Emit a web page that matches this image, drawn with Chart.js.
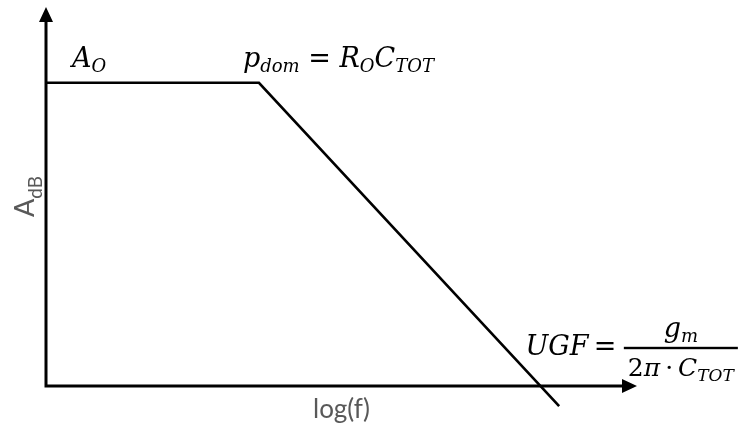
<!DOCTYPE html>
<html>
<head>
<meta charset="utf-8">
<script src="https://cdn.jsdelivr.net/npm/chart.js@4"></script>
<style>
  html, body { margin: 0; padding: 0; background: #fff; }
  #bode { display: block; }
</style>
</head>
<body>
<canvas id="bode" width="740" height="428"></canvas>
<script>
// asymptotic magnitude of a single-pole amplifier: flat at A0, then -20 dB/dec
const logF   = [0, 2.27, 5.47];
const gainDb = [60, 60, -4];

const xRange  = [0, 6.3];   // decades
const yRange  = [0, 75];    // dB
const ugfLogF = 5.27;       // where the asymptote crosses 0 dB

const ink  = '#000';
const grey = '#595959';
const mathFont = '"DejaVu Serif", serif';
const textFont = 'Lato, "Open Sans", sans-serif';

const MAIN = 27, SUB = 18, SUB_DY = 5;
const FRAC = 25, FRAC_SUB = 17;
const THIN = '\u2009';
const it  = (t, size = MAIN, dy = 0) => ({ t, size, dy, italic: true });
const up  = (t, size = MAIN, dy = 0) => ({ t, size, dy, italic: false });
const sub = (t, size = SUB) => it(t, size, SUB_DY);

const gainLabel = [it('A'), sub('O')];
const poleLabel = [it('p'), sub('dom'), up(' = '), it('R'), sub('O'), it('C'), sub('TOT')];
const ugfLabel  = [it('UGF'), up(THIN + '=' + THIN)];
const ugfNum    = [it('g'), sub('m')];
const ugfDen    = [up('2', FRAC), it('π', FRAC), up(THIN + '·' + THIN, FRAC), it('C', FRAC), sub('TOT', FRAC_SUB)];

function setFont(ctx, p) {
  ctx.font = `${p.italic ? 'italic ' : ''}${p.size}px ${mathFont}`;
}

function runWidth(ctx, parts) {
  return parts.reduce((w, p) => { setFont(ctx, p); return w + ctx.measureText(p.t).width; }, 0);
}

function drawRun(ctx, parts, x, y) {
  for (const p of parts) {
    setFont(ctx, p);
    ctx.fillText(p.t, x, y + p.dy);
    x += ctx.measureText(p.t).width;
  }
  return x;
}

// axes with arrowheads, the axis titles and the formula labels
const bodeDecor = {
  id: 'bodeDecor',
  afterDatasetsDraw(chart) {
    const { ctx, scales: { x, y } } = chart;
    const x0 = x.getPixelForValue(xRange[0]);
    const x1 = x.getPixelForValue(xRange[1]);
    const y0 = y.getPixelForValue(yRange[0]);
    const y1 = y.getPixelForValue(yRange[1]);

    ctx.save();
    ctx.strokeStyle = ink;
    ctx.fillStyle = ink;
    ctx.lineWidth = 3;
    ctx.lineCap = 'butt';

    ctx.beginPath();
    ctx.moveTo(x0, y0 + 1.5);
    ctx.lineTo(x0, y1 + 10);
    ctx.moveTo(x0 - 1.5, y0);
    ctx.lineTo(x1 - 10, y0);
    ctx.stroke();

    ctx.beginPath();
    ctx.moveTo(x0, y1);
    ctx.lineTo(x0 - 7, y1 + 15);
    ctx.lineTo(x0 + 7, y1 + 15);
    ctx.closePath();
    ctx.moveTo(x1, y0);
    ctx.lineTo(x1 - 15, y0 - 7);
    ctx.lineTo(x1 - 15, y0 + 7);
    ctx.closePath();
    ctx.fill();

    // axis titles
    ctx.fillStyle = grey;
    ctx.textBaseline = 'alphabetic';
    ctx.font = `26px ${textFont}`;
    ctx.textAlign = 'center';
    ctx.fillText('log(f)', (x0 + x1) / 2, y0 + 32);

    ctx.textAlign = 'left';
    ctx.save();
    ctx.font = `27px ${textFont}`;
    const wA = ctx.measureText('A').width;
    ctx.font = `19px ${textFont}`;
    const wSub = ctx.measureText('dB').width;
    ctx.translate(x0 - 12, (y0 + y1) / 2 + (wA + wSub) / 2);
    ctx.rotate(-Math.PI / 2);
    ctx.font = `27px ${textFont}`;
    ctx.fillText('A', 0, 0);
    ctx.font = `19px ${textFont}`;
    ctx.fillText('dB', wA, 8);
    ctx.restore();

    // formula labels
    ctx.fillStyle = ink;
    const flatY = y.getPixelForValue(gainDb[0]);
    drawRun(ctx, gainLabel, x0 + 26, flatY - 16);

    const poleX = x.getPixelForValue(logF[1]);
    drawRun(ctx, poleLabel, poleX - 16, flatY - 16);

    const ugfX = x.getPixelForValue(ugfLogF);
    const base = y0 - 31;
    const barL = drawRun(ctx, ugfLabel, ugfX - 15, base) + 2;
    const numW = runWidth(ctx, ugfNum);
    const denW = runWidth(ctx, ugfDen);
    const barW = Math.max(numW, denW) + 8;
    const barY = base - 7;
    ctx.fillRect(barL, barY - 1.2, barW, 2.4);
    drawRun(ctx, ugfNum, barL + (barW - numW) / 2, barY - 11);
    drawRun(ctx, ugfDen, barL + (barW - denW) / 2, barY + 28);

    ctx.restore();
  }
};

new Chart(document.getElementById('bode'), {
  type: 'scatter',
  data: {
    datasets: [{
      data: logF.map((f, i) => ({ x: f, y: gainDb[i] })),
      showLine: true,
      borderColor: ink,
      borderWidth: 2.6,
      borderJoinStyle: 'miter',
      pointRadius: 0,
      clip: false,
    }],
  },
  options: {
    responsive: false,
    animation: false,
    layout: { padding: { left: 46, right: 103, top: 7, bottom: 42 } },
    scales: {
      x: { type: 'linear', display: false, min: xRange[0], max: xRange[1] },
      y: { type: 'linear', display: false, min: yRange[0], max: yRange[1] },
    },
    plugins: { legend: { display: false }, tooltip: { enabled: false } },
  },
  plugins: [bodeDecor],
});
</script>
</body>
</html>
